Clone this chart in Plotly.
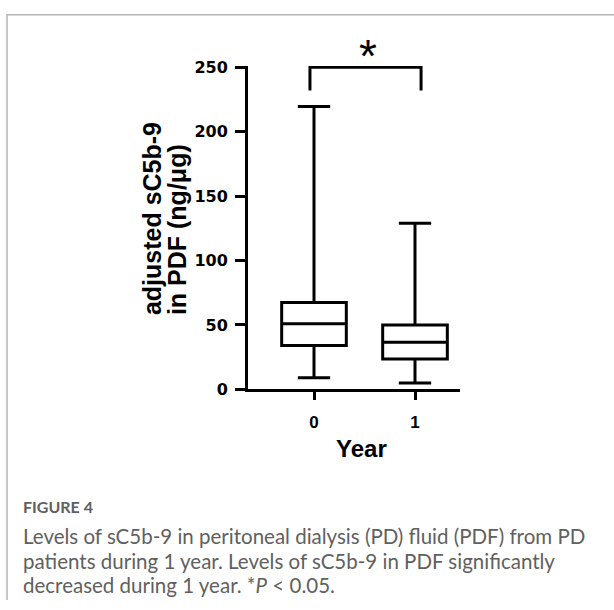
import plotly.graph_objects as go

# ---- data ----
years = [0, 1]
year_labels = ["0", "1"]
lower_whisker = [9, 5]
q1_vals = [34, 23.5]
median_vals = [51, 36.5]
q3_vals = [67.5, 50]
upper_whisker = [219.5, 129]
y_ticks = [0, 50, 100, 150, 200, 250]
y_tick_labels = ["0", "50", "100", "150", "200", "250"]
sig_bracket_top = 250
sig_bracket_bottom = 232
sig_label = "*"

W, H = 614, 610


def px(x):
    return x / W


def py(y):
    return 1 - y / H


# pixel geometry of plot area
Y0_PX, Y250_PX = 393, 61
X_LEFT, X_RIGHT = 248, 460
CAT0_PX, CAT_STEP = 314, 101

fig = go.Figure()
fig.add_trace(go.Box(
    x=years,
    q1=q1_vals,
    median=median_vals,
    q3=q3_vals,
    lowerfence=lower_whisker,
    upperfence=upper_whisker,
    width=0.64,
    whiskerwidth=0.5,
    line=dict(color="black", width=3),
    fillcolor="rgba(255,255,255,0)",
    boxpoints=False,
    hoverinfo="skip",
    showlegend=False,
))

# significance bracket
bx0, bx1 = years[0] - 0.04, years[1] + 0.06
fig.add_shape(
    type="path",
    path=f"M {bx0},{sig_bracket_bottom} L {bx0},{sig_bracket_top} L {bx1},{sig_bracket_top} L {bx1},{sig_bracket_bottom}",
    xref="x", yref="y",
    line=dict(color="black", width=3),
)
fig.add_annotation(
    x=px(368), y=py(49), xref="paper", yref="paper",
    text=sig_label, showarrow=False,
    font=dict(family="Arial, Liberation Sans", size=46, color="black"),
    xanchor="center", yanchor="middle",
)

# page frame (light border at top and left)
fig.add_shape(
    type="path",
    path=f"M {px(7)},0 L {px(7)},{py(7)} L 1,{py(7)}",
    xref="paper", yref="paper",
    line=dict(color="#b5b5b5", width=1.5),
)

# y axis title (two lines)
title_font = dict(family="Arial, Liberation Sans", size=25, color="black")
fig.add_annotation(
    x=px(152), y=py(319), xref="paper", yref="paper",
    text="<b>adjusted sC5b-9</b>", textangle=-90, showarrow=False,
    font=title_font, xanchor="center", yanchor="bottom",
)
fig.add_annotation(
    x=px(177), y=py(319), xref="paper", yref="paper",
    text="<b>in PDF (ng/μg)</b>", textangle=-90, showarrow=False,
    font=title_font, xanchor="center", yanchor="bottom",
)

# x axis title
fig.add_annotation(
    x=px(361), y=py(454), xref="paper", yref="paper",
    text="<b>Year</b>", showarrow=False,
    font=dict(family="Arial, Liberation Sans", size=24, color="black"),
    xanchor="center", yanchor="middle",
)

# caption
cap_color = "#606060"
cap_font = dict(family="Lato, Open Sans, sans-serif", size=20.5, color=cap_color)
fig.add_annotation(
    x=px(21), y=py(514), xref="paper", yref="paper",
    text="<b>FIGURE 4</b>", showarrow=False,
    font=dict(family="Lato, Open Sans, sans-serif", size=16, color=cap_color),
    xanchor="left", yanchor="middle",
)
caption_lines = [
    "Levels of sC5b-9 in peritoneal dialysis (PD) fluid (PDF) from PD",
    "patients during 1 year. Levels of sC5b-9 in PDF significantly",
    "decreased during 1 year. *<i>P</i> &lt; 0.05.",
]
for line, yc in zip(caption_lines, [544, 569.5, 595]):
    fig.add_annotation(
        x=px(21), y=py(yc), xref="paper", yref="paper",
        text=line, showarrow=False, font=cap_font,
        xanchor="left", yanchor="middle",
    )

px_per_unit = (Y0_PX - Y250_PX) / 250
y_top = 251
fig.update_layout(
    width=W, height=H, autosize=False,
    margin=dict(l=0, r=0, t=0, b=0),
    paper_bgcolor="white", plot_bgcolor="white",
    showlegend=False,
    xaxis=dict(
        domain=[px(X_LEFT), px(X_RIGHT)],
        range=[-(CAT0_PX - X_LEFT) / CAT_STEP, (X_RIGHT - CAT0_PX) / CAT_STEP],
        tickvals=years, ticktext=year_labels,
        showline=True, linewidth=3, linecolor="black",
        ticks="outside", ticklen=8, tickwidth=3, tickcolor="black",
        showgrid=False, zeroline=False,
        tickfont=dict(family="Arial, Liberation Sans", size=17, color="black", weight="bold"),
        ticklabelstandoff=7,
    ),
    yaxis=dict(
        domain=[py(Y0_PX), py(Y0_PX - y_top * px_per_unit)],
        range=[0, y_top],
        tickvals=y_ticks, ticktext=y_tick_labels,
        showline=True, linewidth=3, linecolor="black",
        ticks="outside", ticklen=10, tickwidth=3, tickcolor="black",
        showgrid=False, zeroline=False,
        tickfont=dict(family="DejaVu Sans", size=16, color="black", weight="bold"),
        ticklabelstandoff=4,
    ),
)

fig.write_html("out.html")
